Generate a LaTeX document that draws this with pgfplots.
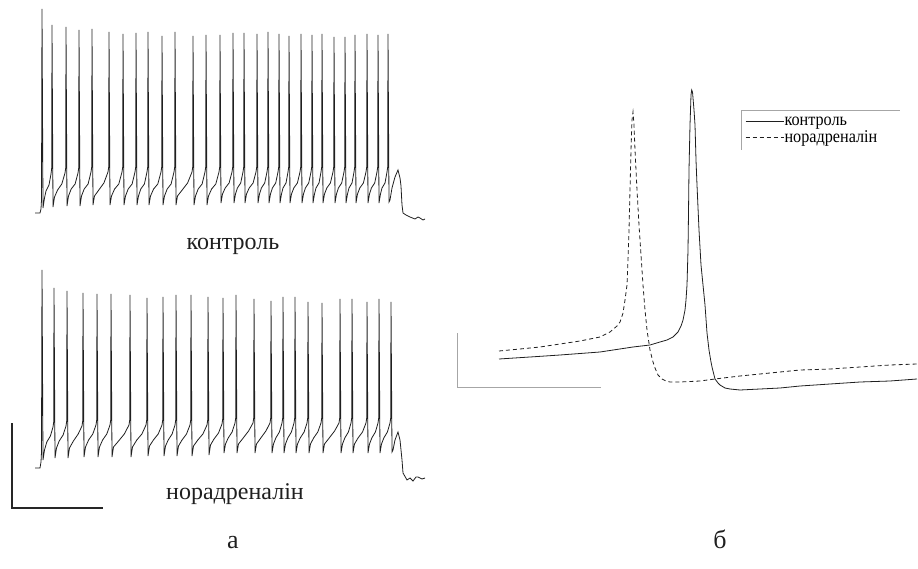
\documentclass[border=0pt]{standalone}
\usepackage{fontspec}
\setmainfont{Liberation Serif}
\newfontfamily\legfont[FakeStretch=0.9]{Liberation Serif}
\usepackage{pgfplots}
\pgfplotsset{compat=1.18}
\definecolor{trace}{gray}{0.12}
\begin{document}
\begin{tikzpicture}
\begin{axis}[
  width=918pt, height=569pt, scale only axis,
  xmin=0, xmax=918, ymin=0, ymax=569, y dir=reverse,
  hide axis, clip=false,
  legend style={at={(axis cs:745,116)}, anchor=north west, draw=none, fill=none,
    font=\legfont\fontsize{18}{18}\selectfont, inner sep=0pt, row sep=3pt,
    nodes={inner sep=0.5pt}},
  legend cell align=left,
  legend image code/.code={\draw[#1] (0pt,0pt) -- (38pt,0pt);},
]
% ---- control spike train (panel a, top)
\addplot[trace, line width=0.8pt, forget plot] coordinates {
(35,213)(40,213)(41,209)(41.5,200)(42,9)
(43,208)(44.5,198)(46,191)(49,185)(51,174)(51.7,168)(52,25)
(53,207)(54.5,197)(57.6,190)(61.8,184)(65,173)(65.7,168)(66,27)
(67,206)(68.5,196)(71.2,189)(75.1,184)(78,173)(78.7,168)(79,30)
(80,206)(81.5,196)(84.2,189)(88.1,184)(91,172)(91.7,167)(92,29)
(93,205)(94.5,196)(98.8,190)(103.9,183)(108,172)(108.7,167)(109,32)
(110,205)(111.5,196)(114.6,189)(118.8,184)(122,172)(122.7,167)(123,34)
(124,205)(125.5,196)(128.2,189)(132.1,184)(135,172)(135.7,167)(136,33)
(137,205)(138.5,196)(140.8,189)(144.4,184)(147,172)(147.7,167)(148,32)
(149,205)(150.5,196)(153.6,189)(157.8,184)(161,172)(161.7,167)(162,36)
(163,205)(164.5,196)(167.2,189)(171.1,184)(174,172)(174.7,167)(175,32)
(176,205)(177.5,196)(182.2,190)(187.6,183)(192,172)(192.7,167)(193,36)
(194,205)(195.5,196)(198.2,189)(202.1,184)(205,172)(205.7,167)(206,35)
(207,205)(208.5,196)(211.6,189)(215.8,184)(219,172)(219.7,167)(220,35)
(221,203)(222.5,194)(225.2,188)(229.1,183)(232,172)(232.7,167)(233,33)
(234,203)(235.5,194)(237.4,188)(240.7,183)(243,172)(243.7,167)(244,33)
(245,203)(246.5,194)(249.2,188)(253.1,183)(256,172)(256.7,167)(257,34)
(258,203)(259.5,194)(261.4,188)(264.7,183)(267,172)(267.7,167)(268,32)
(269,203)(270.5,194)(272.4,188)(275.7,183)(278,172)(278.7,167)(279,34)
(280,203)(281.5,194)(283,188)(286,183)(288,172)(288.7,167)(289,36)
(290,203)(291.5,194)(293.8,188)(297.4,183)(300,172)(300.7,167)(301,34)
(302,203)(303.5,194)(305.4,188)(308.7,183)(311,172)(311.7,167)(312,35)
(313,203)(314.5,194)(316,188)(319,183)(321,172)(321.7,167)(322,34)
(323,203)(324.5,194)(326.8,188)(330.4,183)(333,172)(333.7,167)(334,37)
(335,203)(336.5,194)(338.4,188)(341.7,183)(344,172)(344.7,167)(345,37)
(346,203)(347.5,194)(349,188)(352,183)(354,172)(354.7,167)(355,35)
(356,203)(357.5,194)(359.8,188)(363.4,183)(366,172)(366.7,167)(367,34)
(368,203)(369.5,194)(371.4,188)(374.7,183)(377,172)(377.7,167)(378,35)
(379,203)(380.5,194)(382,188)(385,183)(387,172)(387.7,167)(388,34)
(389,202)(390,200)(392,188)(395,177)(398,170)(400,178)(401,186)(402,205)(403,213)
(406,215)(410,217)(415,219)(418,217)(420,218)(423,220)(425,219)
};
% ---- noradrenaline spike train (panel a, bottom)
\addplot[trace, line width=0.8pt, forget plot] coordinates {
(35,468)(40,468)(41,462)(41.5,452)(42,270)
(43,460)(44.5,450)(46.8,442)(50.4,436)(53,427)(53.7,422)(54,288)
(55,458)(56.5,448)(59.2,441)(63.1,435)(66,426)(66.7,421)(67,291)
(68,458)(69.5,448)(73.4,441)(78.2,434)(82,426)(82.7,421)(83,293)
(84,457)(85.5,447)(88.6,440)(92.8,434)(96,425)(96.7,420)(97,294)
(98,457)(99.5,447)(102.6,440)(106.8,434)(110,425)(110.7,420)(111,294)
(112,457)(113.5,447)(118.6,441)(124.3,434)(129,425)(129.7,420)(130,295)
(131,457)(132.5,447)(136.8,440)(141.9,434)(146,425)(146.7,420)(147,298)
(148,456)(149.5,446)(153.4,440)(158.2,434)(162,425)(162.7,420)(163,297)
(164,456)(165.5,446)(168.2,440)(172.1,434)(175,425)(175.7,420)(176,295)
(177,456)(178.5,446)(182,440)(186.5,434)(190,425)(190.7,420)(191,295)
(192,456)(193.5,446)(197.8,440)(202.9,434)(207,425)(207.7,420)(208,297)
(209,455)(210.5,445)(214,439)(218.5,433)(222,424)(222.7,419)(223,298)
(224,453)(225.5,444)(228.2,438)(232.1,432)(235,423)(235.7,418)(236,295)
(237,453)(238.5,444)(243.2,438)(248.6,431)(253,423)(253.7,418)(254,299)
(255,453)(256.5,444)(260.8,438)(265.9,431)(270,423)(270.7,418)(271,301)
(272,453)(273.5,444)(275.8,438)(279.4,432)(282,423)(282.7,418)(283,297)
(284,453)(285.5,444)(287.8,438)(291.4,432)(294,423)(294.7,418)(295,297)
(296,453)(297.5,444)(300.2,438)(304.1,432)(307,423)(307.7,418)(308,302)
(309,453)(310.5,444)(313.6,438)(317.8,432)(321,423)(321.7,418)(322,303)
(323,453)(324.5,444)(329.2,438)(334.6,431)(339,423)(339.7,418)(340,299)
(341,453)(342.5,444)(344.8,438)(348.4,432)(351,423)(351.7,418)(352,299)
(353,453)(354.5,444)(358,438)(362.5,432)(366,423)(366.7,418)(367,302)
(368,453)(369.5,444)(371.8,438)(375.4,432)(378,423)(378.7,418)(379,299)
(380,453)(381.5,444)(383.8,438)(387.4,432)(390,423)(390.7,418)(391,302)
(392,452)(393,450)(395,440)(398,432)(400,440)(402,460)(403,473)(407,480)(410,478)
(413,481)(416,477)(418,477)(422,479)(425,478)
};
% ---- panel b: single action potentials
\addplot[trace, line width=0.8pt] coordinates {
(499,359)(530,357)(560,355)(600,352)(633,347)(650,345)(660,342)(667,340)(673,337)
(678,332)(681,326)(683,320)(685,310)(686,300)(687,285)(688,250)(688.5,213)(689,170)
(690,125)(691,95)(691.7,90)(692.5,92)(694,110)(695,125)(696,160)(697,185)(699,230)
(701,265)(703,285)(705,305)(707,333)(709,350)(711,362)(712,367)(715,379)(718,383)
(720,385)(725,388)(730,389)(740,390)(760,389)(780,388)(800,386)(830,384)(860,382)
(890,381)(917,379)
};
\addlegendentry{контроль}
\addplot[trace, line width=0.8pt, dash pattern=on 4pt off 3pt] coordinates {
(499,351)(520,349)(540,347)(560,344)(580,341)(600,337)(610,332)(617,326)(620,322)
(623,313)(625,300)(627,285)(628,260)(629,230)(630,190)(631,150)(632,120)(633,112)
(634,125)(635,150)(637,190)(639,225)(641,255)(643,285)(645,310)(647,330)(650,350)
(653,362)(655,368)(658,375)(662,379)(666,381)(670,382)(680,382)(700,381)(715,379)
(740,376)(760,374)(780,372)(800,370)(830,369)(860,367)(890,365)(917,364)
};
\addlegendentry{норадреналін}
% legend frame (top and left edges only)
\draw[gray!70, line width=0.6pt] (axis cs:741,150) -- (axis cs:741,110) -- (axis cs:900,110);
% scale bars
\draw[black!85, line width=2pt] (axis cs:12,423) -- (axis cs:12,508) -- (axis cs:103,508);
\draw[gray!70, line width=0.8pt] (axis cs:457,333) -- (axis cs:457,387) -- (axis cs:601,387);
% labels
\node[font=\fontsize{24}{24}\selectfont, anchor=base, trace] at (axis cs:233,250) {контроль};
\node[font=\fontsize{24}{24}\selectfont, anchor=base, trace] at (axis cs:235,499) {норадреналін};
\node[font=\fontsize{26}{26}\selectfont, anchor=base, trace] at (axis cs:233,548) {а};
\node[font=\fontsize{26}{26}\selectfont, anchor=base, trace] at (axis cs:720,548) {б};
\path (axis cs:0,0) rectangle (axis cs:918,569);
\end{axis}
\end{tikzpicture}
\end{document}
